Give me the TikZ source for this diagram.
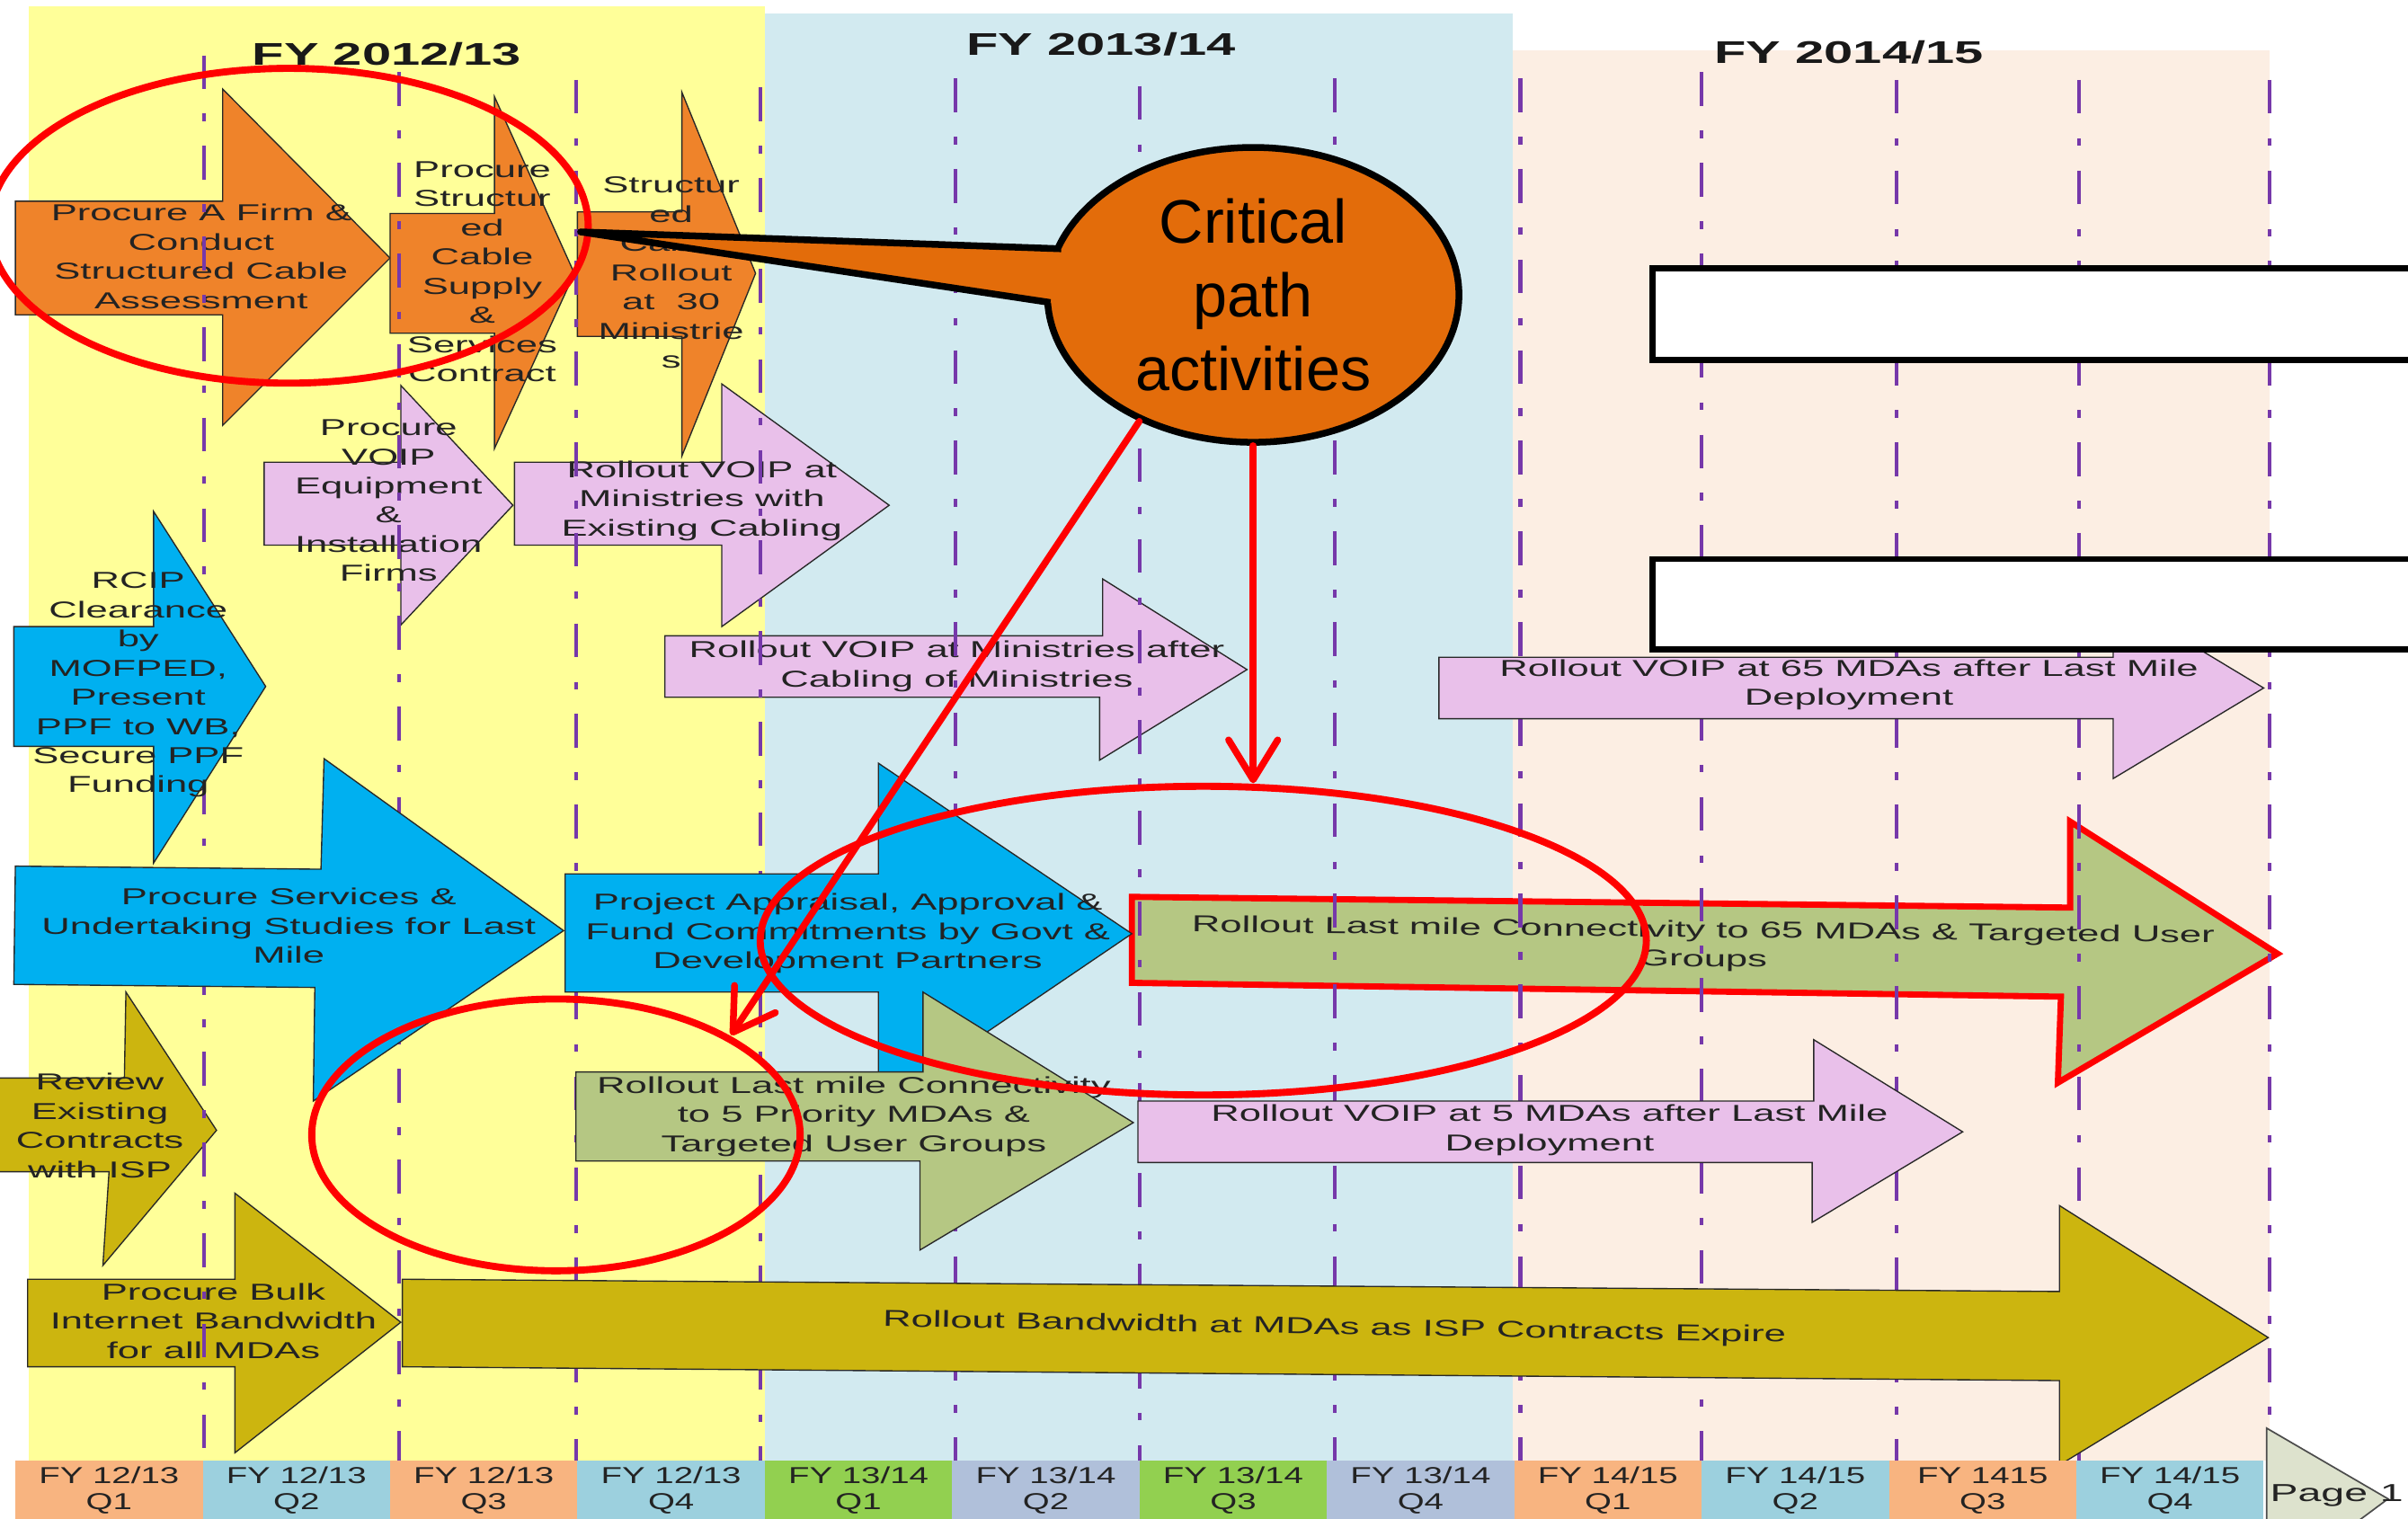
\documentclass[tikz,border=0pt]{standalone}
\usepackage{fontspec}
\setmainfont{Liberation Sans}
\newfontfamily\wfont[FakeStretch=1.7]{Liberation Sans}
\newfontfamily\cfont[FakeStretch=1.5]{Liberation Sans}
\newfontfamily\tfont[FakeStretch=1.66]{Liberation Sans Bold}
\usetikzlibrary{shapes.geometric,arrows.meta}
\definecolor{bgY}{RGB}{255,255,153}
\definecolor{bgB}{RGB}{210,234,240}
\definecolor{bgP}{RGB}{252,238,227}
\definecolor{dashc}{RGB}{118,56,170}
\definecolor{aOr}{RGB}{239,131,42}
\definecolor{aPk}{RGB}{233,192,234}
\definecolor{aBl}{RGB}{0,176,240}
\definecolor{aGr}{RGB}{181,199,131}
\definecolor{aOl}{RGB}{204,181,15}
\definecolor{cpOr}{RGB}{227,108,10}
\definecolor{cO}{RGB}{248,180,128}
\definecolor{cB}{RGB}{156,208,222}
\definecolor{cG}{RGB}{146,208,80}
\definecolor{cS}{RGB}{176,192,218}
\definecolor{pgc}{RGB}{221,226,205}
\definecolor{txt}{RGB}{35,35,35}
\definecolor{outl}{RGB}{40,40,40}
\definecolor{redc}{RGB}{255,0,0}
\begin{document}
\begin{tikzpicture}[x=1pt,y=-1pt,
 abox/.style={draw=outl,line width=0.8pt,line join=miter},
 atext/.style={font=\wfont\fontsize{15}{19}\selectfont,align=center,text=txt,inner sep=0pt},
 ttext/.style={font=\tfont\fontsize{20.4}{24}\selectfont,text=black!90,inner sep=0pt},
 dline/.style={draw=dashc,line width=2.4pt,dash pattern=on 22pt off 16pt on 5pt off 16pt},
 redell/.style={ellipse,draw=redc,line width=4.6pt,inner sep=0pt,outer sep=0pt},
 redarrow/.style={draw=redc,line width=4.4pt,line cap=round,-{Straight Barb[length=26pt,width=32pt,round]}},
 wbox/.style={rectangle,draw=black,line width=4pt,fill=white,inner sep=0pt,anchor=north west},
 qcell/.style={rectangle,minimum width=122pt,minimum height=39pt,inner sep=0pt,font=\cfont\fontsize{15}{17}\selectfont,align=center,text=txt}
]
\useasboundingbox (0,0) rectangle (1568,989);
% backgrounds
\fill[bgY] (19,4) rectangle (498,951);
\fill[bgB] (498,9) rectangle (985,951);
\fill[bgP] (985,33) rectangle (1478,951);
% titles
\node[ttext] (fy1) at (252,35) {FY 2012/13};
\node[ttext] (fy2) at (717,29) {FY 2013/14};
\node[ttext] (fy3) at (1204,34) {FY 2014/15};
% --- arrows under the quarter lines
\draw[abox,fill=aOr] (10,131) -- (145,131) -- (145,58) -- (254,168) -- (145,277) -- (145,205) -- (10,205) -- cycle;
\node[atext] (a1) at (131,167) {Procure A Firm \&\\Conduct\\Structured Cable\\Assessment};
\draw[abox,fill=aOr] (254,139) -- (322,139) -- (322,63) -- (374,178) -- (322,292) -- (322,217) -- (254,217) -- cycle;
\node[atext] (a2) at (314,177) {Procure\\Structur\\ed\\Cable\\Supply\\\&\\Services\\Contract};
\draw[abox,fill=aOr] (376,138) -- (444,138) -- (444,60) -- (492,178) -- (444,297) -- (444,219) -- (376,219) -- cycle;
\node[atext] (a3) at (437,177.5) {Structur\\ed\\Cable\\Rollout\\at~ 30\\Ministrie\\s};
\draw[abox,fill=aPk] (172,301) -- (261,301) -- (261,251) -- (334,329) -- (261,407) -- (261,355) -- (172,355) -- cycle;
\node[atext] (a4) at (253,326) {Procure\\VOIP\\Equipment\\\&\\Installation\\Firms};
\draw[abox,fill=aPk] (335,301) -- (470,301) -- (470,250) -- (579,329) -- (470,408) -- (470,355) -- (335,355) -- cycle;
\node[atext] (a5) at (457,326) {Rollout VOIP at\\Ministries with\\Existing Cabling};
\draw[abox,fill=aPk] (433,414) -- (718,414) -- (718,377) -- (812,436) -- (716,495) -- (716,454) -- (433,454) -- cycle;
\node[atext] (a7) at (623,434) {Rollout VOIP at Ministries after\\Cabling of Ministries};
\draw[abox,fill=aOl] (-5,702) -- (81,702) -- (82,646) -- (141,736) -- (67,824) -- (71,763) -- (-5,763) -- cycle;
\node[atext] (a11) at (65,733) {Review\\Existing\\Contracts\\with ISP};
\draw[abox,fill=aOl] (18,833) -- (153,833) -- (153,777) -- (261,861) -- (153,946) -- (153,890) -- (18,890) -- cycle;
\node[atext] (a12) at (139,860) {Procure Bulk\\Internet Bandwidth\\for all MDAs};
\draw[fill=aGr,draw=redc,line width=4pt,line join=miter] (737,584) -- (1348,591) -- (1348,535) -- (1483,621) -- (1340,705) -- (1342,649) -- (737,640) -- cycle;
\node[atext,rotate=-0.6] (a16) at (1109,616) {Rollout Last mile Connectivity to 65 MDAs \& Targeted User\\Groups};
% --- quarter lines
\draw[dline] (133,36) -- (133,951);
\draw[dline] (260,47) -- (260,951);
\draw[dline] (375,52) -- (375,951);
\draw[dline] (495,57) -- (495,951);
\draw[dline] (622,51) -- (622,951);
\draw[dline] (742,56) -- (742,951);
\draw[dline] (869,51) -- (869,951);
\draw[dline] (990,51) -- (990,951);
\draw[dline] (1108,47) -- (1108,951);
\draw[dline] (1235,52) -- (1235,951);
\draw[dline] (1354,52) -- (1354,951);
\draw[dline] (1478,52) -- (1478,951);
% --- arrows over the quarter lines
\draw[abox,fill=aBl] (9,408) -- (100,408) -- (100,333) -- (173,447) -- (100,562) -- (100,486) -- (9,486) -- cycle;
\node[atext] (a6) at (90,446) {RCIP\\Clearance\\by\\MOFPED,\\Present\\PPF to WB,\\Secure PPF\\Funding};
\draw[abox,fill=aBl] (10,564) -- (209,566) -- (211,494) -- (367,606) -- (204,717) -- (205,643) -- (9,641) -- cycle;
\node[atext] (a8) at (188,603) {Procure Services \&\\Undertaking Studies for Last\\Mile};
\draw[abox,fill=aBl] (368,569) -- (572,569) -- (572,497) -- (737,608) -- (572,720) -- (572,646) -- (368,646) -- cycle;
\node[atext] (a9) at (552,608) {Project Appraisal, Approval \&\\Fund Commitments by Govt \&\\Development Partners};
\draw[abox,fill=aGr] (375,698) -- (601,698) -- (601,646) -- (738,731) -- (599,814) -- (599,756) -- (375,756) -- cycle;
\node[atext] (a10) at (556,727) {Rollout Last mile Connectivity\\to 5 Priority MDAs \&\\Targeted User Groups};
\draw[abox,fill=aOl] (262,833) -- (1341,841) -- (1341,785) -- (1477,871) -- (1341,954) -- (1341,899) -- (262,890) -- cycle;
\node[atext,rotate=-1] (a13) at (869,865) {Rollout Bandwidth at MDAs as ISP Contracts Expire};
\draw[abox,fill=aPk] (741,717) -- (1181,717) -- (1181,677) -- (1278,737) -- (1180,796) -- (1180,757) -- (741,757) -- cycle;
\node[atext] (a14) at (1009,736) {Rollout VOIP at 5 MDAs after Last Mile\\Deployment};
\draw[abox,fill=aPk] (937,428) -- (1376,428) -- (1376,389) -- (1474,448) -- (1376,507) -- (1376,468) -- (937,468) -- cycle;
\node[atext] (a15) at (1204,446) {Rollout VOIP at 65 MDAs after Last Mile\\Deployment};
% --- red ellipses
\node[redell,minimum width=390pt,minimum height=205pt] (e1) at (188,147) {};
\node[redell,minimum width=577pt,minimum height=201pt] (e2) at (783.5,612.5) {};
\node[redell,minimum width=318pt,minimum height=177pt] (e3) at (362,739) {};
% --- callout
\node[ellipse,draw=black,line width=4.4pt,fill=cpOr,minimum width=268pt,minimum height=192pt,inner sep=0pt,font=\fontsize{40}{48}\selectfont,align=center] (cp) at (816,192) {Critical\\path\\activities};
\fill[cpOr] (378,151) -- (691,162) -- (725,166) -- (725,202) -- (684,197) -- cycle;
\draw[line width=4.4pt,line join=round] (691,162) -- (378,151) -- (684,197);
\coordinate (t1) at (476,674);
\coordinate (t2) at (816,510);
\draw[redarrow] (cp.228) -- (t1);
\draw[redarrow] (cp.south) -- (t2);
% --- white boxes
\node[wbox,minimum width=560pt,minimum height=60pt] (w1) at (1074,172.5) {};
\node[wbox,minimum width=560pt,minimum height=59pt] (w2) at (1074,362) {};
% --- page arrow
\draw[fill=pgc,draw=black!70,line width=1pt] (1476,930) -- (1555,976) -- (1520,1002) -- (1476,1002) -- cycle;
\node[atext,anchor=base west,font=\wfont\fontsize{16}{19}\selectfont] (pg) at (1478,977.5) {Page\hspace{8pt}1};
% --- quarter cells
\node[qcell,fill=cO] (q1) at (71,970.5) {FY 12/13\\Q1};
\node[qcell,fill=cB] (q2) at (193,970.5) {FY 12/13\\Q2};
\node[qcell,fill=cO] (q3) at (315,970.5) {FY 12/13\\Q3};
\node[qcell,fill=cB] (q4) at (437,970.5) {FY 12/13\\Q4};
\node[qcell,fill=cG] (q5) at (559,970.5) {FY 13/14\\Q1};
\node[qcell,fill=cS] (q6) at (681,970.5) {FY 13/14\\Q2};
\node[qcell,fill=cG] (q7) at (803,970.5) {FY 13/14\\Q3};
\node[qcell,fill=cS] (q8) at (925,970.5) {FY 13/14\\Q4};
\node[qcell,fill=cO] (q9) at (1047,970.5) {FY 14/15\\Q1};
\node[qcell,fill=cB] (q10) at (1169,970.5) {FY 14/15\\Q2};
\node[qcell,fill=cO] (q11) at (1291,970.5) {FY 1415\\Q3};
\node[qcell,fill=cB] (q12) at (1413,970.5) {FY 14/15\\Q4};
\end{tikzpicture}
\end{document}
